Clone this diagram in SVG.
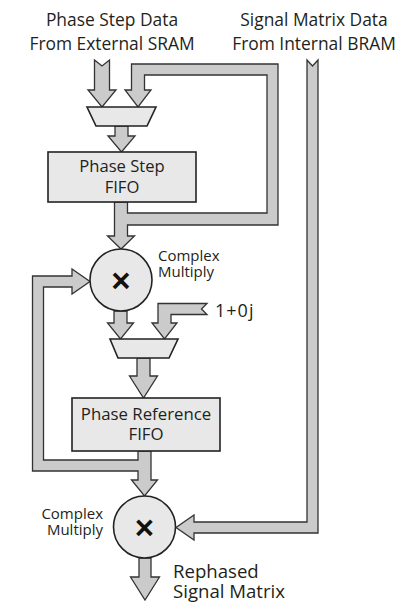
<svg xmlns="http://www.w3.org/2000/svg" width="409" height="602" viewBox="0 0 409 602">
<style>
.c{fill:#cbcbcb;stroke:#333;stroke-width:1.3;stroke-linejoin:miter}
.b{fill:#e8e8e8;stroke:#222;stroke-width:1.6}
.t{font-family:"Open Sans","Noto Sans",sans-serif;fill:#231f20}
.x{font-family:"Liberation Sans",Arial,sans-serif;font-weight:bold;font-size:33px;fill:#111;text-anchor:middle}
</style>
<rect width="409" height="602" fill="#fff"/>
<g id="connectors">
<path class="c" d="M94.5,60 L102,66 L109.5,60 L109.5,90 L116,90 L102,107 L88,90 L94.5,90 Z"/>
<path class="c" d="M115,126 L128,126 L128,136 L135,136 L121.5,152 L108,136 L115,136 Z"/>
<path class="c" d="M114.5,202 L127.5,202 L127.5,213 L267,213 L267,75 L144.5,75 L144.5,90 L151,90 L138,107 L125,90 L131.5,90 L131.5,64 L278,64 L278,225 L127.5,225 L127.5,236 L134.5,236 L121,249 L107.5,236 L114.5,236 Z"/>
<path class="c" d="M114,311 L127,311 L127,323 L133.5,323 L120.5,339 L107.5,323 L114,323 Z"/>
<path class="c" d="M207,303.5 L158,303.5 L158,323 L152,323 L164.5,339 L177,323 L171,323 L171,314.5 L207,314.5 L201.5,309 Z"/>
<path class="c" d="M137,358 L150,358 L150,376 L157.5,376 L143.5,398 L129.5,376 L137,376 Z"/>
<path class="c" d="M138,451 L151,451 L151,480 L157.5,480 L144.5,496 L131.5,480 L138,480 L138,471 L32.5,471 L32.5,276 L72,276 L72,269 L90,281.5 L72,294 L72,287 L43.5,287 L43.5,460 L138,460 Z"/>
<path class="c" d="M307,60 L312.5,66 L318,60 L318,533 L194,533 L194,540 L176,527.5 L194,515 L194,522 L307,522 Z"/>
<path class="c" d="M139,558 L151,558 L151,577 L159.5,577 L145,600 L130.5,577 L139,577 Z"/>
</g>
<g id="mux1"><polygon class="b" points="87,107 156,107 147,126 96,126"/></g>
<g id="fifo1"><rect class="b" x="48" y="152" width="148" height="50"/>
<text class="t" font-size="16.6" text-anchor="middle"><tspan x="122" y="172">Phase Step</tspan><tspan x="122" y="193">FIFO</tspan></text></g>
<g id="mult1"><circle class="b" cx="121" cy="280" r="31"/><text class="x" x="121" y="291.5">×</text>
<text class="t" font-size="15"><tspan x="158" y="261">Complex</tspan><tspan x="158" y="277">Multiply</tspan></text></g>
<g id="mux2"><polygon class="b" points="110,339 178,339 169,358 118,358"/></g>
<g id="fifo2"><rect class="b" x="72" y="398" width="148" height="53"/>
<text class="t" font-size="16.8" text-anchor="middle"><tspan x="146" y="420">Phase Reference</tspan><tspan x="146" y="440">FIFO</tspan></text></g>
<g id="mult2"><circle class="b" cx="144.5" cy="527" r="31"/><text class="x" x="144.5" y="538.5">×</text>
<text class="t" font-size="15" text-anchor="end"><tspan x="103" y="518.5">Complex</tspan><tspan x="103" y="534.5">Multiply</tspan></text></g>
<g id="labels">
<text class="t" font-size="17.4" text-anchor="middle"><tspan x="112" y="26">Phase Step Data</tspan><tspan x="112" y="50">From External SRAM</tspan></text>
<text class="t" font-size="17.4" text-anchor="middle"><tspan x="314" y="26">Signal Matrix Data</tspan><tspan x="314" y="50">From Internal BRAM</tspan></text>
<text class="t" x="215" y="317" font-size="18" letter-spacing="1">1+0j</text>
<text class="t" font-size="18.6"><tspan x="173" y="578">Rephased</tspan><tspan x="173" y="598">Signal Matrix</tspan></text>
</g>
</svg>
